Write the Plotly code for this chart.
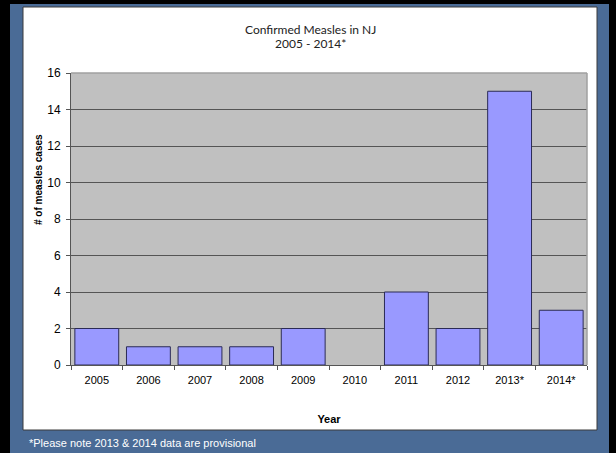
import plotly.graph_objects as go

years = ["2005", "2006", "2007", "2008", "2009", "2010", "2011", "2012", "2013*", "2014*"]
cases = [2, 1, 1, 1, 2, 0, 4, 2, 15, 3]
title_lines = ["Confirmed Measles in NJ", "2005 - 2014*"]

W, H = 616, 453
L, R, T, B = 71, 587, 73, 365  # plot area in pixels
pw, ph = R - L, B - T

def px(x):
    return (x - L) / pw

def py(y):
    return (B - y) / ph

fig = go.Figure()
fig.add_trace(go.Bar(
    x=years, y=cases,
    marker=dict(color="#9999FF",
                line=dict(color="#2b2b55", width=[0 if v == 0 else 1 for v in cases])),
    width=0.85,
))

shapes = [
    # black slide frame
    dict(type="rect", xref="paper", yref="paper", x0=px(0), x1=px(W), y0=py(H), y1=py(0),
         fillcolor="#000000", line=dict(width=0), layer="below"),
    # blue slide
    dict(type="rect", xref="paper", yref="paper", x0=px(10), x1=px(609), y0=py(H), y1=py(4),
         fillcolor="#4A6B96", line=dict(width=0), layer="below"),
    # white chart area
    dict(type="rect", xref="paper", yref="paper", x0=px(23), x1=px(597), y0=py(430), y1=py(7),
         fillcolor="#FFFFFF", line=dict(color="#3a3a3a", width=1), layer="below"),
    # gray plot area
    dict(type="rect", xref="paper", yref="paper", x0=0, x1=1, y0=0, y1=1,
         fillcolor="#C0C0C0", line=dict(width=0), layer="below"),
    # plot border top/right
    dict(type="line", xref="paper", yref="paper", x0=0, x1=1, y0=1, y1=1,
         line=dict(color="#a0a0a0", width=1.5), layer="above"),
    dict(type="line", xref="paper", yref="paper", x0=1, x1=1, y0=0, y1=1,
         line=dict(color="#a0a0a0", width=1.5), layer="above"),
]

title_font = dict(family="Lato, Open Sans", size=12, color="#222222")

fig.update_layout(
    width=W, height=H,
    margin=dict(l=L, r=W - R, t=T, b=H - B),
    paper_bgcolor="#4A6B96",
    plot_bgcolor="#C0C0C0",
    showlegend=False,
    shapes=shapes,
    font=dict(family="Liberation Sans, Arial", size=11, color="#000000"),
    xaxis=dict(
        type="category",
        showgrid=False,
        showline=True, linecolor="#555555", linewidth=1,
        ticks="outside", tickson="boundaries", ticklen=4, tickcolor="#555555",
        ticklabelstandoff=5,
        tickfont=dict(size=11),
        title=dict(text="<b>Year</b>", standoff=30, font=dict(size=11)),
    ),
    yaxis=dict(
        range=[0, 16], dtick=2,
        showgrid=True, gridcolor="#555555", gridwidth=1,
        zeroline=False,
        showline=True, linecolor="#555555", linewidth=1,
        ticks="outside", ticklen=4, tickcolor="#555555",
        ticklabelstandoff=3,
        tickfont=dict(size=12),
    ),
    annotations=[
        dict(text=title_lines[0], xref="paper", yref="paper", x=px(310), y=py(30),
             xanchor="center", yanchor="middle", showarrow=False, font=title_font),
        dict(text=title_lines[1], xref="paper", yref="paper", x=px(310), y=py(44),
             xanchor="center", yanchor="middle", showarrow=False, font=title_font),
        dict(text="<b># of measles cases</b>", textangle=-90,
             xref="paper", yref="paper", x=px(38), y=py(180),
             xanchor="center", yanchor="middle", showarrow=False,
             font=dict(family="Liberation Sans, Arial", size=10, color="#000000")),
        dict(text="*Please note 2013 & 2014 data are provisional",
             xref="paper", yref="paper", x=px(27), y=py(443),
             xanchor="left", yanchor="middle", showarrow=False,
             font=dict(family="Liberation Sans, Arial", size=11, color="#FFFFFF")),
    ],
)

fig.write_html("out.html")
